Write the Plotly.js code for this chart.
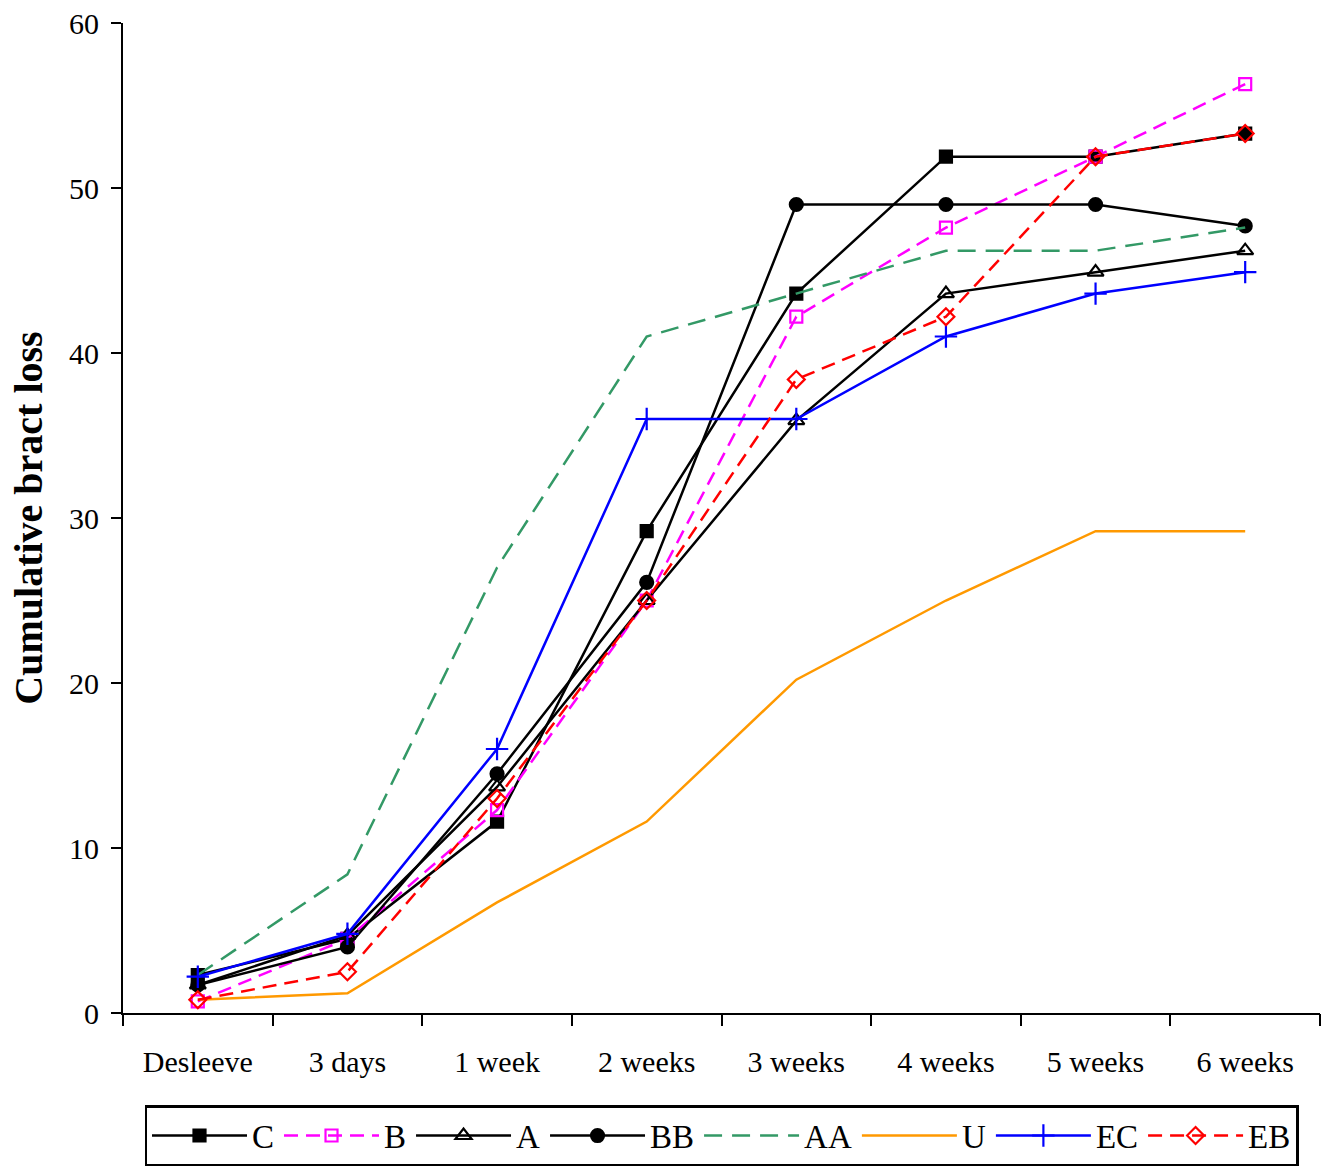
<!DOCTYPE html>
<html>
<head>
<meta charset="utf-8">
<script src="https://cdn.plot.ly/plotly-3.0.1.min.js"></script>
<style>
  html, body { margin: 0; padding: 0; background: #ffffff; }
  #chart { width: 1333px; height: 1167px; }
</style>
</head>
<body>
<div id="chart"></div>
<script>
// Sampling times after desleeving
const periods = ["Desleeve", "3 days", "1 week", "2 weeks", "3 weeks", "4 weeks", "5 weeks", "6 weeks"];

// Cumulative bract loss per treatment
const valsC  = [2.3, 4.5, 11.6, 29.2, 43.6, 51.9, 51.9, 53.3];
const valsB  = [0.7, 4.5, 12.3, 25.0, 42.2, 47.6, 51.9, 56.3];
const valsA  = [1.7, 4.7, 13.7, 25.0, 35.9, 43.6, 44.9, 46.2];
const valsBB = [1.7, 4.0, 14.5, 26.1, 49.0, 49.0, 49.0, 47.7];
const valsAA = [2.3, 8.4, 27.0, 41.0, 43.6, 46.2, 46.2, 47.6];
const valsU  = [0.8, 1.2, 6.7, 11.6, 20.2, 25.0, 29.2, 29.2];
const valsEC = [2.2, 4.8, 16.0, 36.0, 36.0, 41.0, 43.6, 44.9];
const valsEB = [0.8, 2.5, 13.0, 25.0, 38.4, 42.2, 51.9, 53.3];

// Category boundaries carry the tick marks on the time axis
const boundaries = [-0.5, 0.5, 1.5, 2.5, 3.5, 4.5, 5.5, 6.5, 7.5];

const serif = "'Liberation Serif', 'Times New Roman', serif";

function series(name, y, color, dash, symbol, size, fill) {
  const t = {
    type: "scatter",
    x: periods,
    y: y,
    name: name,
    mode: symbol ? "lines+markers" : "lines",
    line: { color: color, width: 2.5, dash: dash },
    cliponaxis: false
  };
  if (symbol) {
    t.marker = {
      symbol: symbol,
      size: size,
      color: fill,
      line: { color: color, width: 2.2 }
    };
  }
  return t;
}

const traces = [
  series("C",  valsC,  "#000000", "solid",     "square",          12, "#000000"),
  series("B",  valsB,  "#FF00FF", "14px,8px",  "square-open",     12, "#FF00FF"),
  series("A",  valsA,  "#000000", "solid",     "triangle-up-open",14, "#000000"),
  series("BB", valsBB, "#000000", "solid",     "circle",          13, "#000000"),
  series("AA", valsAA, "#339966", "18px,10px", null),
  series("U",  valsU,  "#FF9900", "solid",     null),
  series("EC", valsEC, "#0000FF", "solid",     "cross-thin-open", 16, "#0000FF"),
  series("EB", valsEB, "#FF0000", "14px,8px",  "diamond-open",    13, "#FF0000")
];

// Invisible helper trace that owns the boundary-tick axis
traces.push({
  type: "scatter",
  x: [boundaries[0], boundaries[boundaries.length - 1]],
  y: [0, 0],
  xaxis: "x2",
  mode: "none",
  showlegend: false,
  hoverinfo: "skip"
});

const layout = {
  width: 1333,
  height: 1167,
  margin: { l: 123, r: 13, t: 23, b: 154, autoexpand: false },
  paper_bgcolor: "#ffffff",
  plot_bgcolor: "#ffffff",
  font: { family: serif, color: "#000000", size: 30 },
  showlegend: true,
  xaxis: {
    type: "category",
    range: [-0.5, 7.5],
    showgrid: false,
    zeroline: false,
    showline: true,
    linecolor: "#000000",
    linewidth: 2,
    ticks: "",
    ticklabelstandoff: 21,
    tickfont: { family: serif, size: 30, color: "#000000" },
    fixedrange: true
  },
  xaxis2: {
    overlaying: "x",
    anchor: "y",
    side: "bottom",
    range: [-0.5, 7.5],
    tickvals: boundaries,
    ticks: "outside",
    ticklen: 12,
    tickwidth: 2,
    tickcolor: "#000000",
    showticklabels: false,
    showgrid: false,
    zeroline: false,
    showline: false
  },
  yaxis: {
    range: [0, 60],
    dtick: 10,
    showgrid: false,
    zeroline: false,
    showline: true,
    linecolor: "#000000",
    linewidth: 2,
    ticks: "outside",
    ticklen: 10,
    tickwidth: 2,
    tickcolor: "#000000",
    ticklabelstandoff: 6,
    tickfont: { family: serif, size: 30, color: "#000000" },
    title: {
      text: "<b>Cumulative bract loss</b>",
      font: { family: serif, size: 40, color: "#000000" },
      standoff: 14
    }
  },
  legend: {
    orientation: "h",
    x: 0.5,
    xanchor: "center",
    y: -0.093,
    yanchor: "top",
    bordercolor: "#000000",
    borderwidth: 2.5,
    bgcolor: "#ffffff",
    font: { family: serif, size: 33, color: "#000000" },
    itemwidth: 95,
    tracegroupgap: 0
  }
};

Plotly.newPlot("chart", traces, layout, { displayModeBar: false, staticPlot: true });
</script>
</body>
</html>
